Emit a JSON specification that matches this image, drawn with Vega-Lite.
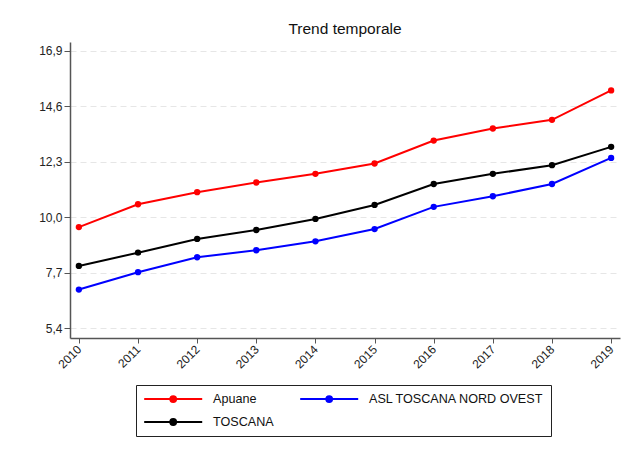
{
  "$schema": "https://vega.github.io/schema/vega-lite/v6.json",
  "width": 550,
  "height": 296,
  "autosize": {"type": "none"},
  "padding": {"left": 70, "top": 42, "right": 14, "bottom": 118},
  "background": "white",
  "title": {"text": "Trend temporale", "fontSize": 15.5, "fontWeight": "normal", "font": "Liberation Sans", "color": "#111", "offset": 5},
  "config": {
    "view": {"stroke": null},
    "font": "Liberation Sans"
  },
  "data": {
    "values": [
      {"anno": "2010", "serie": "Apuane", "valore": 9.59},
      {"anno": "2011", "serie": "Apuane", "valore": 10.54},
      {"anno": "2012", "serie": "Apuane", "valore": 11.04},
      {"anno": "2013", "serie": "Apuane", "valore": 11.44},
      {"anno": "2014", "serie": "Apuane", "valore": 11.8},
      {"anno": "2015", "serie": "Apuane", "valore": 12.23},
      {"anno": "2016", "serie": "Apuane", "valore": 13.18},
      {"anno": "2017", "serie": "Apuane", "valore": 13.68},
      {"anno": "2018", "serie": "Apuane", "valore": 14.04},
      {"anno": "2019", "serie": "Apuane", "valore": 15.26},
      {"anno": "2010", "serie": "ASL TOSCANA NORD OVEST", "valore": 7.0},
      {"anno": "2011", "serie": "ASL TOSCANA NORD OVEST", "valore": 7.72},
      {"anno": "2012", "serie": "ASL TOSCANA NORD OVEST", "valore": 8.34},
      {"anno": "2013", "serie": "ASL TOSCANA NORD OVEST", "valore": 8.63},
      {"anno": "2014", "serie": "ASL TOSCANA NORD OVEST", "valore": 9.0},
      {"anno": "2015", "serie": "ASL TOSCANA NORD OVEST", "valore": 9.51},
      {"anno": "2016", "serie": "ASL TOSCANA NORD OVEST", "valore": 10.43},
      {"anno": "2017", "serie": "ASL TOSCANA NORD OVEST", "valore": 10.87},
      {"anno": "2018", "serie": "ASL TOSCANA NORD OVEST", "valore": 11.38},
      {"anno": "2019", "serie": "ASL TOSCANA NORD OVEST", "valore": 12.46},
      {"anno": "2010", "serie": "TOSCANA", "valore": 7.98},
      {"anno": "2011", "serie": "TOSCANA", "valore": 8.53},
      {"anno": "2012", "serie": "TOSCANA", "valore": 9.1},
      {"anno": "2013", "serie": "TOSCANA", "valore": 9.47},
      {"anno": "2014", "serie": "TOSCANA", "valore": 9.93},
      {"anno": "2015", "serie": "TOSCANA", "valore": 10.51},
      {"anno": "2016", "serie": "TOSCANA", "valore": 11.38},
      {"anno": "2017", "serie": "TOSCANA", "valore": 11.8},
      {"anno": "2018", "serie": "TOSCANA", "valore": 12.16},
      {"anno": "2019", "serie": "TOSCANA", "valore": 12.92}
    ]
  },
  "mark": {"type": "line", "strokeWidth": 2, "point": {"filled": true, "size": 40}},
  "encoding": {
    "x": {
      "field": "anno", "type": "ordinal",
      "scale": {"type": "point", "padding": 0.15},
      "axis": {
        "title": null, "labelAngle": -45, "labelAlign": "right", "labelBaseline": "middle",
        "labelFontSize": 12, "labelColor": "#222", "labelPadding": 4,
        "domainColor": "#555", "domainWidth": 1.5, "tickColor": "#555", "tickSize": 5, "grid": false
      }
    },
    "y": {
      "field": "valore", "type": "quantitative",
      "scale": {"domain": [4.99, 17.27], "nice": false, "zero": false},
      "axis": {
        "title": null, "values": [5.4, 7.7, 10.0, 12.3, 14.6, 16.9],
        "labelExpr": "replace(format(datum.value, '.1f'), '.', ',')",
        "labelFontSize": 12, "labelColor": "#222", "labelPadding": 2,
        "domainColor": "#555", "domainWidth": 1.5, "tickColor": "#555", "tickSize": 6,
        "grid": true, "gridColor": "#e6e6e6", "gridDash": [6, 4]
      }
    },
    "color": {
      "field": "serie", "type": "nominal",
      "scale": {"domain": ["Apuane", "ASL TOSCANA NORD OVEST", "TOSCANA"], "range": ["#ff0000", "#0000ff", "#000000"]},
      "legend": {
        "title": null, "orient": "none", "legendX": 66, "legendY": 343,
        "direction": "horizontal", "columns": 2, "columnPadding": 22, "rowPadding": 9,
        "symbolType": "M-1,0L9,0M4.5,0A0.5,0.5 0 1,1 3.5,0A0.5,0.5 0 1,1 4.5,0Z",
        "symbolSize": 134.6, "symbolStrokeWidth": 2, "labelFontSize": 12.6, "labelColor": "#111", "labelOffset": 56,
        "labelLimit": 300,
        "strokeColor": "#222", "padding": 7, "fillColor": "white",
        "encode": {"symbols": {"update": {"fill": {"scale": "color", "field": "value"}}}}
      }
    }
  }
}
